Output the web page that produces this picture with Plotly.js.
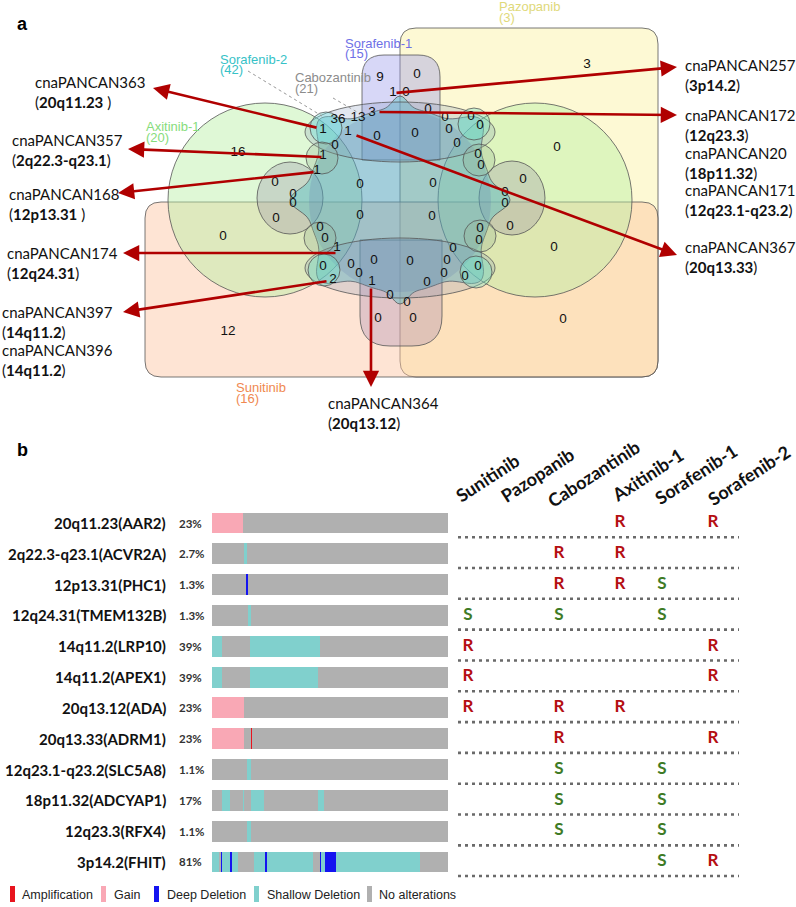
<!DOCTYPE html>
<html><head><meta charset="utf-8">
<script src="https://cdn.plot.ly/plotly-3.0.1.min.js"></script>
<style>html,body{margin:0;padding:0;background:#fff}#chart{width:796px;height:907px}</style>
</head><body><div id="chart"></div>
<script>
// ---------------- DATA ----------------
// Panel a: Venn region counts and where each count sits
const vennVals = [9,0,1,0,36,13,3,1,1,0, 0,0,0,0,0,0,0,0,1,1, 16,0,0,0,0,0,0,0,0,0, 0,0,0,0,0,0,0,0,0,0, 0,0,0,0,0,0,1,0,0,0, 2,1,0,0,0,0,0,0,0,12, 3,0,0];
const vennX = [380,417,393,406,338,358,372,323,348,377, 415,428,445,449,471,480,457,335,323,317, 238,275,293,293,360,433,360,432,478,481, 523,505,505,557,276,510,480,479,453,447, 478,465,444,427,320,325,337,323,351,359, 333,372,374,410,390,407,378,413,223,228, 587,563,554];
const vennY = [78,75,93,93,120,118,113,130,132,137, 134,110,118,130,117,126,144,146,156,171, 153,183,195,204,185,184,216,217,155,166, 180,193,204,148,219,227,229,241,249,261, 267,277,274,283,228,239,248,267,265,274, 280,282,261,262,296,303,319,319,237,332, 65,320,248];

const setNames = ['Sorafenib-1','Sorafenib-2','Cabozantinib','Axitinib-1','Pazopanib','Sunitinib'];
const setSizes = [15,42,21,20,3,16];

const cnaIds   = ['cnaPANCAN363','cnaPANCAN357','cnaPANCAN168','cnaPANCAN174','cnaPANCAN397','cnaPANCAN396','cnaPANCAN257','cnaPANCAN172','cnaPANCAN20','cnaPANCAN171','cnaPANCAN367','cnaPANCAN364'];
const cnaBands = ['20q11.23','2q22.3-q23.1','12p13.31','12q24.31','14q11.2','14q11.2','3p14.2','12q23.3','18p11.32','12q23.1-q23.2','20q13.33','20q13.12'];

// Panel b
const rowLabels = ['20q11.23(AAR2)','2q22.3-q23.1(ACVR2A)','12p13.31(PHC1)','12q24.31(TMEM132B)','14q11.2(LRP10)','14q11.2(APEX1)','20q13.12(ADA)','20q13.33(ADRM1)','12q23.1-q23.2(SLC5A8)','18p11.32(ADCYAP1)','12q23.3(RFX4)','3p14.2(FHIT)'];
const rowPct = ['23%','2.7%','1.3%','1.3%','39%','39%','23%','23%','1.1%','17%','1.1%','81%'];
// alteration segments along patients (A amp, G gain, D deep del, S shallow del, N none), widths in % of patients
const segTypes = [
  ['G','N'],
  ['N','S','N'],
  ['N','D','N'],
  ['N','S','N'],
  ['S','N','S','N'],
  ['S','N','S','N'],
  ['G','N'],
  ['G','N','A','N'],
  ['N','S','N'],
  ['N','S','N','S','N','S','N','S','N'],
  ['N','S','N'],
  ['S','N','D','S','D','S','N','S','D','S','N','D','S','D','S','N']
];
const segWidths = [
  [13.1,86.9],
  [13.6,1.3,85.1],
  [14.6,0.6,84.8],
  [15.3,1.3,83.4],
  [4.2,11.9,29.7,54.2],
  [4.2,11.9,28.8,55.1],
  [13.6,86.4],
  [13.6,3.0,0.5,82.9],
  [14.8,1.7,83.5],
  [4.2,3.4,5.5,0.6,3.0,5.5,22.9,2.5,52.4],
  [14.8,1.7,83.5],
  [3.0,0.8,0.5,3.4,0.8,2.5,6.8,4.7,0.8,19.5,3.0,0.4,1.7,4.7,35.6,11.8]
];
const drugs = ['Sunitinib','Pazopanib','Cabozantinib','Axitinib-1','Sorafenib-1','Sorafenib-2'];
const response = [
  ['','','','R','','R'],
  ['','','R','R','',''],
  ['','','R','R','S',''],
  ['S','','S','','S',''],
  ['R','','','','','R'],
  ['R','','','','','R'],
  ['R','','R','R','',''],
  ['','','R','','','R'],
  ['','','S','','S',''],
  ['','','S','','S',''],
  ['','','S','','S',''],
  ['','','','','S','R']
];
const altCodes = ['A','G','D','S','N'];
const altNames = ['Amplification','Gain','Deep Deletion','Shallow Deletion','No alterations'];

// ---------------- STYLE / LAYOUT ----------------
const W = 796, H = 907;
const altColor = {A:'#e8141e', G:'#f9a8b5', D:'#1414f0', S:'#80d0cd', N:'#b0b0b0'};
const setColor = ['#6e70e6','#36c2c7','#8c8c8c','#86dc7c','#e0d97a','#f08850'];
const setLabelPos = [[343,43,53],[218,59,69],[293,77,88],[144,126,137],[497,6,17],[234,387,398]];
const cnaPos = [[33,82],[10,140],[7,194],[5,253],[0,312],[0,350],[683,65],[683,115],[683,153],[683,190],[683,247],[326,403]];
const cnaSpace = [true,false,true,false,false,false,false,false,false,false,false,false];
const arrowTail = [[318,128],[323,157],[315,172],[337,253],[328,281],[395,93],[378,112],[355,135],[371,287]];
const arrowHead = [[153,88],[128,149],[118,193],[123,253],[123,312],[677,67],[677,115],[677,255],[371,387]];
const colX = [468,513,559,620,662,713];
const headerPos = [[487,478],[537,475],[593,474],[647,475],[696,474],[749,475]];

const shapes = [];
const annotations = [];
const traces = [];
const OUT = '#555';

function rrect(x0,y0,x1,y1,r){
  return `M${x0+r},${y0} L${x1-r},${y0} Q${x1},${y0} ${x1},${y0+r} L${x1},${y1-r} Q${x1},${y1} ${x1-r},${y1} L${x0+r},${y1} Q${x0},${y1} ${x0},${y1-r} L${x0},${y0+r} Q${x0},${y0} ${x0+r},${y0} Z`;
}
function ad(a,b){let d=Math.abs(a-b)%(2*Math.PI);return Math.min(d,2*Math.PI-d);}
function blob(cx,cy,rf,n){let p='';for(let i=0;i<=n;i++){const t=2*Math.PI*i/n,r=rf(t);p+=(i?'L':'M')+(cx+r*Math.cos(t)).toFixed(1)+','+(cy+r*Math.sin(t)).toFixed(1);}return p+'Z';}
function bumps(t,angles,sig){return angles.reduce((s,a)=>s+Math.exp(-Math.pow(ad(t,a*Math.PI/180)/sig,2)),0);}
function addPath(path,fill,lw){shapes.push({type:'path',path,xref:'x',yref:'y',fillcolor:fill,line:{color:OUT,width:lw===undefined?0.8:lw},layer:'below'});}
function addEll(cx,cy,rx,ry,fill,lw){shapes.push({type:'circle',xref:'x',yref:'y',x0:cx-rx,x1:cx+rx,y0:cy-ry,y1:cy+ry,fillcolor:fill,line:{color:OUT,width:lw===undefined?0.8:lw},layer:'below'});}

// Venn sets
addPath(rrect(400,28,658,377,16),'rgba(251,241,160,0.45)');   // Pazopanib
addPath(rrect(145,202,658,377,16),'rgba(252,196,160,0.45)');  // Sunitinib
addEll(265,200,97,97,'rgba(184,239,164,0.45)');               // Axitinib-1 (left)
addEll(535,200,97,97,'rgba(184,239,164,0.45)');               // Axitinib-1 (right)
addEll(290,198,33,36,'rgba(150,140,165,0.30)');
addEll(512,198,33,37,'rgba(150,140,165,0.30)');
addPath('M362,160 L362,77 Q362,55 384,55 L418,55 Q440,55 440,77 L440,160 Z','rgba(150,150,235,0.38)'); // Sorafenib-1
addPath('M360,240 L360,316 Q360,346 390,346 L412,346 Q442,346 442,316 L442,240 Z','rgba(165,135,175,0.32)');
addPath(blob(400,200,t=>92+22*bumps(t,[45,135,225,315],0.17)+18*bumps(t,[0,180],0.13)+12*bumps(t,[90,270],0.10),240),'rgba(80,196,200,0.42)'); // Sorafenib-2
addEll(400,201,91,91,'rgba(90,110,170,0.20)',0);              // shared core (darker centre)
addEll(400,132,95,30,'rgba(120,140,180,0.22)');
addEll(400,268,95,30,'rgba(120,140,180,0.22)');
[[326,128,'rgba(110,230,225,0.35)'],[322,158,'rgba(150,180,150,0.3)'],[324,270,'rgba(110,230,200,0.35)'],[320,238,'rgba(150,180,150,0.3)'],
 [474,124,'rgba(110,230,200,0.35)'],[479,160,'rgba(150,180,150,0.3)'],[476,272,'rgba(110,230,200,0.35)'],[480,236,'rgba(150,180,150,0.3)']]
 .forEach(c=>addEll(c[0],c[1],16,16,c[2]));

// dotted leaders from set labels
shapes.push({type:'line',xref:'x',yref:'y',x0:248,y0:71,x1:322,y1:116,line:{color:'#999',width:1,dash:'dot'}});
shapes.push({type:'line',xref:'x',yref:'y',x0:333,y0:98,x1:357,y1:112,line:{color:'#999',width:1,dash:'dot'}});

// Venn counts
traces.push({type:'scatter',mode:'text',x:vennX,y:vennY,text:vennVals.map(String),xaxis:'x',yaxis:'y',
  textfont:{family:'Liberation Sans, Arial',size:13.5,color:'#111'},hoverinfo:'skip',showlegend:false});

// set labels
setNames.forEach((n,i)=>{
  const p=setLabelPos[i];
  annotations.push({xref:'x',yref:'y',x:p[0],y:p[1],text:n,showarrow:false,xanchor:'left',yanchor:'middle',font:{family:'Liberation Sans, Arial',size:13,color:setColor[i]}});
  annotations.push({xref:'x',yref:'y',x:p[0],y:p[2],text:'('+setSizes[i]+')',showarrow:false,xanchor:'left',yanchor:'middle',font:{family:'Liberation Sans, Arial',size:13,color:setColor[i]}});
});

// cna labels
cnaIds.forEach((id,i)=>{
  const p=cnaPos[i];
  annotations.push({xref:'x',yref:'y',x:p[0],y:p[1],text:id,showarrow:false,xanchor:'left',yanchor:'middle',font:{family:'Lato, Open Sans',size:15,color:'#111'}});
  annotations.push({xref:'x',yref:'y',x:p[0],y:p[1]+20,text:'(<b>'+cnaBands[i]+'</b>'+(cnaSpace[i]?' ':'')+')',showarrow:false,xanchor:'left',yanchor:'middle',font:{family:'Lato, Open Sans',size:15,color:'#111'}});
});

// red arrows
arrowTail.forEach((t,i)=>{
  const h=arrowHead[i];
  annotations.push({xref:'x',yref:'y',axref:'x',ayref:'y',x:h[0],y:h[1],ax:t[0],ay:t[1],text:'',showarrow:true,arrowhead:2,arrowsize:1.25,arrowwidth:2.6,arrowcolor:'#b00000',standoff:0,startstandoff:0});
});

// panel letters
annotations.push({xref:'x',yref:'y',x:15,y:24,text:'<b>a</b>',showarrow:false,xanchor:'left',font:{family:'Liberation Sans, Arial',size:18,color:'#000'}});
annotations.push({xref:'x',yref:'y',x:15,y:450,text:'<b>b</b>',showarrow:false,xanchor:'left',font:{family:'Liberation Sans, Arial',size:18,color:'#000'}});

// Panel b bars
const maxSeg = Math.max(...segTypes.map(s=>s.length));
for(let k=0;k<maxSeg;k++){
  traces.push({type:'bar',orientation:'h',xaxis:'x2',yaxis:'y2',y:rowLabels,x:segWidths.map(w=>w[k]||0),
    marker:{color:segTypes.map(t=>altColor[t[k]||'N']),line:{width:0}},width:0.68,hoverinfo:'skip',showlegend:false});
}
rowLabels.forEach((l,i)=>{
  annotations.push({xref:'paper',yref:'y2',x:168/W,y:i,text:'<b>'+l+'</b>',showarrow:false,xanchor:'right',yanchor:'middle',font:{family:'Lato, Open Sans',size:15,color:'#111'}});
  annotations.push({xref:'paper',yref:'y2',x:177/W,y:i,text:'<b>'+rowPct[i]+'</b>',showarrow:false,xanchor:'left',yanchor:'middle',font:{family:'Lato, Open Sans',size:11.5,color:'#333'}});
  shapes.push({type:'line',xref:'x3',yref:'y2',x0:458,x1:739,y0:i+0.46,y1:i+0.46,line:{color:'#6a6a6a',width:2.6,dash:'3px,4px'}});
});

// response table
['R','S'].forEach(L=>{
  const xs=[],ys=[];
  response.forEach((row,i)=>row.forEach((v,j)=>{if(v===L){xs.push(colX[j]);ys.push(rowLabels[i]);}}));
  traces.push({type:'scatter',mode:'text',x:xs,y:ys,text:xs.map(()=>'<b>'+L+'</b>'),xaxis:'x3',yaxis:'y2',
    textfont:{family:'Lato, Open Sans',size:17,color:L==='R'?'#b50f12':'#3e7b26'},hoverinfo:'skip',showlegend:false});
});
drugs.forEach((d,j)=>{
  annotations.push({xref:'x',yref:'y',x:headerPos[j][0],y:headerPos[j][1],text:'<b>'+d+'</b>',showarrow:false,textangle:-33,font:{family:'Lato, Open Sans',size:18,color:'#111'}});
});

// alteration legend
const legRectX=[10,101,154,254,367], legTextX=[20,112,165,265,377];
altCodes.forEach((c,i)=>{
  shapes.push({type:'rect',xref:'x',yref:'y',x0:legRectX[i],x1:legRectX[i]+5,y0:886,y1:902,fillcolor:altColor[c],line:{width:0}});
  annotations.push({xref:'x',yref:'y',x:legTextX[i],y:895,text:altNames[i],showarrow:false,xanchor:'left',yanchor:'middle',font:{family:'Liberation Sans, Arial',size:12.5,color:'#222'}});
});

const top2=507.6, bot2=877.4;
const layout = {
  width:W,height:H,margin:{l:0,r:0,t:0,b:0},paper_bgcolor:'#fff',plot_bgcolor:'rgba(0,0,0,0)',
  showlegend:false,barmode:'stack',bargap:0,
  xaxis:{domain:[0,1],range:[0,W],visible:false,fixedrange:true},
  yaxis:{domain:[0,1],range:[H,0],visible:false,fixedrange:true},
  xaxis2:{domain:[212/W,448/W],range:[0,100],visible:false,anchor:'y2',fixedrange:true},
  yaxis2:{domain:[1-bot2/H,1-top2/H],type:'category',categoryorder:'array',categoryarray:rowLabels,range:[rowLabels.length-0.5,-0.5],visible:false,anchor:'x2',fixedrange:true},
  xaxis3:{domain:[0,1],range:[0,W],visible:false,anchor:'y2',fixedrange:true},
  shapes,annotations
};
Plotly.newPlot('chart',traces,layout,{displayModeBar:false,staticPlot:true});
</script></body></html>
